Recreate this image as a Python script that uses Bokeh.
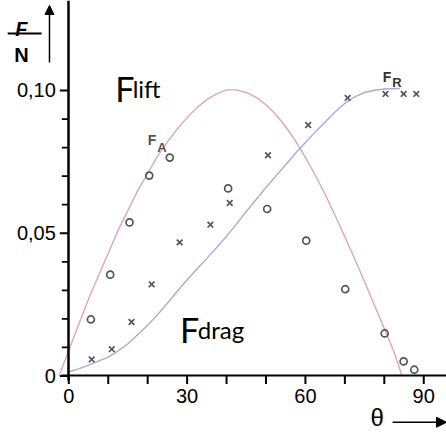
import math
from bokeh.plotting import figure
from bokeh.models import LinearAxis, FixedTicker, Range1d, Label, Arrow, NormalHead
from bokeh.embed import file_html
from bokeh.resources import INLINE

# ---- data ----
theta_lift_curve = [-2.5, 0, 2.5, 5, 7.5, 10, 12.5, 15, 17.5, 20, 22.5, 25, 27.5, 30, 32.5, 35,
                    37.5, 40, 42.5, 45, 47.5, 50, 52.5, 55, 57.5, 60, 62.5, 65, 67.5, 70, 72.5,
                    75, 77.5, 80, 82.5, 84.5]
F_lift_curve = [0.0, 0.009, 0.018, 0.027, 0.035, 0.043, 0.051, 0.058, 0.065, 0.071, 0.077, 0.082,
                0.0865, 0.0905, 0.094, 0.0968, 0.0988, 0.1002, 0.1002, 0.0993, 0.0976, 0.0950,
                0.0916, 0.0873, 0.0823, 0.0766, 0.0703, 0.0636, 0.0563, 0.0488, 0.0410, 0.0330,
                0.0248, 0.0166, 0.0083, 0.0]

theta_drag_curve = [0, 2.5, 5, 7.5, 10, 12.5, 15, 17.5, 20, 22.5, 25, 27.5, 30, 32.5, 35, 37.5,
                    40, 42.5, 45, 47.5, 50, 52.5, 55, 57.5, 60, 62.5, 65, 67.5, 70, 72.5, 75,
                    77.5, 80, 84]
F_drag_curve = [0.0015, 0.0025, 0.0038, 0.0052, 0.0066, 0.0088, 0.0113, 0.0145, 0.0178, 0.0215,
                0.0255, 0.0297, 0.0337, 0.0375, 0.0412, 0.0450, 0.0490, 0.0532, 0.0576, 0.0618,
                0.0660, 0.0700, 0.0740, 0.0780, 0.0818, 0.0855, 0.0890, 0.0925, 0.0955, 0.0978,
                0.0993, 0.1001, 0.1005, 0.1007]

theta_FA = [5.6, 10.5, 15.4, 20.4, 25.6, 40.4, 50.3, 60.2, 70.1, 80.1, 84.9, 87.6]
F_FA = [0.0198, 0.0355, 0.0538, 0.0702, 0.0765, 0.0657, 0.0585, 0.0474, 0.0304, 0.0149, 0.0051, 0.0022]

theta_FR = [5.8, 10.9, 15.9, 21.0, 28.1, 35.9, 40.8, 50.5, 60.7, 70.7, 80.3, 84.9, 88.1]
F_FR = [0.0058, 0.0094, 0.0189, 0.0321, 0.0468, 0.0530, 0.0606, 0.0773, 0.0879, 0.0974, 0.0988, 0.0988, 0.0988]

x_ticks = [0, 30, 60, 90]
x_minor = [0, 10, 20, 30, 40, 50, 60, 70, 80, 90]
y_ticks = [0, 0.05, 0.10]
y_minor = [0.01, 0.02, 0.03, 0.04, 0.06, 0.07, 0.08, 0.09]
y_tick_labels = {0: "0", 0.05: "0,05", 0.10: "0,10"}

# pixel scale of the frame (px per data unit), used only to offset the tick marks
PX_X = 446 / (95.77 + 17.32)
PX_Y = 432 / (0.13152 + 0.01979)

p = figure(width=446, height=432, x_range=Range1d(-17.32, 95.77), y_range=Range1d(-0.01979, 0.13152),
           output_backend="svg", toolbar_location=None, x_axis_location=None, y_axis_location=None,
           min_border=0)
p.outline_line_color = None
p.grid.visible = False

# x axis along F = 0 (tick marks drawn separately below)
xa = LinearAxis(fixed_location=0, bounds=(-1.8, 95.77))
xa.ticker = FixedTicker(ticks=x_ticks, minor_ticks=x_minor)
xa.axis_line_width = 2
xa.axis_line_color = "black"
xa.major_tick_line_color = None
xa.minor_tick_line_color = None
xa.major_tick_out = 0
xa.minor_tick_out = 0
xa.major_tick_in = 0
xa.minor_tick_in = 0
xa.major_label_standoff = 13
xa.major_label_text_font = "Liberation Sans"
xa.major_label_text_font_size = "20px"
xa.major_label_text_color = "black"
p.add_layout(xa, "below")

# y axis along theta = 0
ya = LinearAxis(fixed_location=0, bounds=(-0.0015, 0.13152))
ya.ticker = FixedTicker(ticks=y_ticks, minor_ticks=y_minor)
ya.major_label_overrides = y_tick_labels
ya.axis_line_width = 2.5
ya.axis_line_color = "black"
ya.major_tick_line_color = None
ya.minor_tick_line_color = None
ya.major_tick_out = 0
ya.minor_tick_out = 0
ya.major_tick_in = 0
ya.minor_tick_in = 0
ya.major_label_standoff = 13
ya.major_label_text_font = "Liberation Sans"
ya.major_label_text_font_size = "20px"
ya.major_label_text_color = "black"
p.add_layout(ya, "left")

# tick marks as dash markers hanging off the axes
p.scatter(x=x_minor, y=[-4 / PX_Y] * len(x_minor), marker="dash", size=8, angle=math.pi / 2,
          line_width=2, line_color="black")
p.scatter(x=[-4.5 / PX_X] * len(y_ticks), y=y_ticks, marker="dash", size=9,
          line_width=1.8, line_color="black")
p.scatter(x=[-3.5 / PX_X] * len(y_minor), y=y_minor, marker="dash", size=7,
          line_width=1.8, line_color="black")

# curves
p.line(theta_lift_curve, F_lift_curve, line_color="#dba6bf", line_width=1.4)
p.line(theta_drag_curve, F_drag_curve, line_color="#a9a9df", line_width=1.4)

# measured points
p.scatter(theta_FA, F_FA, marker="circle", size=7, fill_color=None,
          line_color="#555555", line_width=1.7)
p.scatter(theta_FR, F_FR, marker="x", size=8, line_color="#555555", line_width=1.7)

# labels
big_font = "Lato"
p.add_layout(Label(x=11.8, y=0.1006, text="F", text_font=big_font, text_font_size="34px",
                   text_baseline="alphabetic", text_align="left", text_color="black"))
p.add_layout(Label(x=16.2, y=0.1006, text="lift", text_font=big_font, text_font_size="24px",
                   text_baseline="alphabetic", text_align="left", text_color="black"))
p.add_layout(Label(x=28.2, y=0.0162, text="F", text_font=big_font, text_font_size="34px",
                   text_baseline="alphabetic", text_align="left", text_color="black"))
p.add_layout(Label(x=32.7, y=0.0162, text="drag", text_font=big_font, text_font_size="24px",
                   text_baseline="alphabetic", text_align="left", text_color="black"))

p.add_layout(Label(x=20.0, y=0.0827, text="F", text_font="Liberation Sans", text_font_size="14px",
                   text_font_style="bold", text_baseline="alphabetic", text_align="left",
                   text_color="#555555"))
p.add_layout(Label(x=22.4, y=0.0800, text="A", text_font="Liberation Sans", text_font_size="13px",
                   text_font_style="bold", text_baseline="alphabetic", text_align="left",
                   text_color="#555555"))
p.add_layout(Label(x=79.6, y=0.1046, text="F", text_font="Liberation Sans", text_font_size="14px",
                   text_font_style="bold", text_baseline="alphabetic", text_align="left",
                   text_color="#333333"))
p.add_layout(Label(x=82.0, y=0.1028, text="R", text_font="Liberation Sans", text_font_size="13px",
                   text_font_style="bold", text_baseline="alphabetic", text_align="left",
                   text_color="#333333"))

# F / N axis title with upward arrow
p.add_layout(Label(x=-12.0, y=0.1217, text="F", text_font="Liberation Sans", text_font_size="20px",
                   text_font_style="bold italic", text_baseline="alphabetic", text_align="center",
                   text_color="black"))
p.add_layout(Label(x=-12.0, y=0.1123, text="N", text_font="Liberation Sans", text_font_size="20px",
                   text_font_style="bold", text_baseline="alphabetic", text_align="center",
                   text_color="black"))
p.add_layout(Arrow(x_start=-15.5, y_start=0.1200, x_end=-6.9, y_end=0.1200, start=None, end=None,
                   line_width=2, line_color="black"))
p.add_layout(Arrow(x_start=-4.9, y_start=0.1098, x_end=-4.9, y_end=0.1298,
                   end=NormalHead(size=9, fill_color="black", line_color="black"),
                   line_width=1.5, line_color="black"))

# theta axis title with arrow
p.add_layout(Label(x=78.2, y=-0.0145, text="θ", text_font="Liberation Sans", text_font_size="24px",
                   text_baseline="middle", text_align="center", text_color="black"))
p.add_layout(Arrow(x_start=82.1, y_start=-0.0162, x_end=95.77, y_end=-0.0162,
                   end=NormalHead(size=10, fill_color="black", line_color="black"),
                   line_width=1.5, line_color="black"))

open("out.html", "w").write(file_html(p, INLINE))
